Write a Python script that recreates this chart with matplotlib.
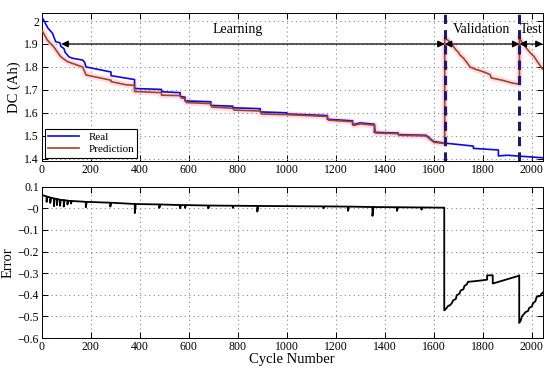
import numpy as np
import matplotlib
matplotlib.use("Agg")
import matplotlib.pyplot as plt
from matplotlib.ticker import FuncFormatter

plt.rcParams['font.family'] = ['Liberation Serif', 'DejaVu Serif']
plt.rcParams['axes.unicode_minus'] = True

# ---- data ----
real_x = [0, 10, 25, 44, 50, 57, 75, 78, 91, 95, 105, 110, 125, 167, 175, 181,
          283, 283, 379, 379, 489, 489, 565, 565, 585, 585, 690, 690, 780, 780,
          892, 892, 1000, 1000, 1166, 1166, 1269, 1269, 1300, 1358, 1358,
          1455, 1455, 1569, 1600, 1645, 1762, 1762, 1864, 1864, 1900, 2045]
real_y = [2.02, 2.0, 1.97, 1.947, 1.93, 1.91, 1.905, 1.89, 1.88, 1.865, 1.852,
          1.845, 1.838, 1.83, 1.82, 1.80, 1.778, 1.762, 1.745, 1.706, 1.702,
          1.692, 1.688, 1.672, 1.668, 1.652, 1.648, 1.632, 1.629, 1.622,
          1.618, 1.604, 1.600, 1.595, 1.588, 1.572, 1.565, 1.548, 1.556, 1.55,
          1.515, 1.512, 1.505, 1.502, 1.475, 1.468, 1.455, 1.445, 1.438,
          1.412, 1.415, 1.404]

pred_x = [0, 23, 49, 77, 105, 167, 181, 283, 283, 345, 379, 379, 489, 489,
          565, 570, 585, 590, 690, 695, 780, 785, 892, 897, 1000, 1166, 1171,
          1269, 1274, 1300, 1358, 1363, 1455, 1460, 1569, 1600, 1645,
          1645, 1660, 1680, 1690, 1700, 1707, 1720, 1735, 1748, 1770, 1800,
          1830, 1835, 1880, 1920, 1950,
          1950, 1965, 1980, 1995, 2010, 2025, 2045]
pred_y = [1.962, 1.917, 1.888, 1.845, 1.823, 1.80, 1.765, 1.742, 1.736, 1.722,
          1.72, 1.693, 1.688, 1.677, 1.675, 1.665, 1.662, 1.645, 1.640, 1.625,
          1.620, 1.612, 1.608, 1.595, 1.592, 1.584, 1.568, 1.561, 1.545, 1.552,
          1.546, 1.512, 1.509, 1.502, 1.499, 1.472, 1.466,
          1.925, 1.915, 1.89, 1.875, 1.865, 1.852, 1.84, 1.82, 1.80, 1.79,
          1.78, 1.767, 1.752, 1.742, 1.73, 1.725,
          1.925, 1.90, 1.88, 1.86, 1.845, 1.82, 1.79]

err_x = [0, 20, 20, 23, 35, 35, 38, 50, 50, 53, 62, 62, 65, 75, 75, 78, 90,
         90, 93, 105, 105, 108, 120, 120, 123, 180, 180, 184, 280, 280, 284,
         380, 380, 384, 480, 480, 484, 565, 565, 569, 585, 585, 589, 680, 680,
         684, 780, 780, 784, 880, 880, 884, 1150, 1150, 1154, 1250, 1250, 1254,
         1350, 1350, 1354, 1450, 1450, 1454, 1550, 1550, 1554, 1643,
         1643, 1650, 1660, 1665, 1673, 1680, 1690, 1694, 1705, 1710, 1721,
         1725, 1735, 1740, 1760, 1800, 1818, 1818, 1841, 1841, 1945, 1949,
         1949, 1955, 1960, 1975, 1985, 1990, 2000, 2005, 2015, 2020, 2035,
         2040, 2045]
err_y = [0.062, 0.055, 0.03, 0.054, 0.05, 0.025, 0.049, 0.046, 0.01, 0.045,
         0.043, 0.015, 0.042, 0.040, 0.012, 0.039, 0.038, 0.008, 0.037, 0.036,
         0.018, 0.035, 0.034, 0.022, 0.034, 0.030, 0.005, 0.030, 0.026, 0.008,
         0.026, 0.020, -0.022, 0.020, 0.018, 0.002, 0.018, 0.015, 0.0, 0.015,
         0.015, 0.002, 0.015, 0.013, 0.0, 0.013, 0.012, 0.002, 0.012, 0.011,
         -0.015, 0.011, 0.009, 0.0, 0.009, 0.008, -0.012, 0.008, 0.006, -0.035,
         0.006, 0.005, -0.012, 0.005, 0.004, -0.006, 0.004, 0.003,
         -0.472, -0.465, -0.45, -0.45, -0.44, -0.425, -0.42, -0.402, -0.395,
         -0.38, -0.375, -0.36, -0.352, -0.34, -0.338, -0.333, -0.33, -0.31,
         -0.31, -0.348, -0.313, -0.31,
         -0.53, -0.52, -0.50, -0.48, -0.475, -0.46, -0.455, -0.44, -0.43,
         -0.41, -0.405, -0.395, -0.39]

phase_bounds = [80, 1645, 1950, 2045]
phase_names = ['Learning', 'Validation', 'Test']
phase_text_x = [800, 1797, 1998]

x_max = 2045

fig = plt.figure(figsize=(5.5, 3.69), dpi=100)
ax1 = fig.add_axes([0.0758, 0.5637, 0.911, 0.401])
ax2 = fig.add_axes([0.0758, 0.084, 0.911, 0.410])

# top: capacity
ax1.plot(pred_x, pred_y, color='#ffdcec', lw=4.5, solid_capstyle='butt', zorder=1)
l_real, = ax1.plot(real_x, real_y, color='#0a0ae6', lw=1.2, zorder=3)
l_pred, = ax1.plot(pred_x, pred_y, color='#a3461c', lw=1.2, zorder=4)
for xb in phase_bounds[1:3]:
    ax1.axvline(xb, color='#1c1c66', lw=2.2, ls=(0, (3, 2)), zorder=5)

for i, name in enumerate(phase_names):
    ax1.annotate('', xy=(phase_bounds[i], 1.9), xytext=(phase_bounds[i + 1], 1.9),
                 arrowprops=dict(arrowstyle='<|-|>', color='black', lw=0.9,
                                 mutation_scale=10, shrinkA=0, shrinkB=0),
                 zorder=6)
    ax1.text(phase_text_x[i], 1.962, name, ha='center', va='center', fontsize=10)

ax1.set_xlim(0, x_max)
ax1.set_ylim(1.39, 2.035)
ax1.set_yticks(np.arange(1.4, 2.01, 0.1))
ax1.set_ylabel('DC (Ah)', fontsize=10.5, labelpad=2)
leg = ax1.legend([l_real, l_pred], ['Real', 'Prediction'], loc='lower left',
                 fontsize=8, fancybox=False, edgecolor='black', framealpha=1,
                 handlelength=2.8, borderpad=0.3, labelspacing=0.2,
                 borderaxespad=0.3)
leg.get_frame().set_linewidth(0.8)

# bottom: error
ax2.plot(err_x, err_y, color='black', lw=1.3)
ax2.set_xlim(0, x_max)
ax2.set_ylim(-0.6, 0.1)
ax2.set_yticks(np.arange(-0.6, 0.11, 0.1))
ax2.set_ylabel('Error', fontsize=10.5, labelpad=2)
ax2.set_xlabel('Cycle Number', fontsize=10.5, labelpad=0)

fmt = FuncFormatter(lambda v, p: ('%g' % round(v, 2)).replace('-', '\u2212'))
for ax in (ax1, ax2):
    ax.set_xticks(np.arange(0, 2001, 200))
    ax.yaxis.set_major_formatter(fmt)
    ax.grid(True, ls=(0, (1, 3)), color='#888888', lw=0.8)
    ax.tick_params(direction='in', top=True, right=True, labelsize=8.5,
                   length=4, width=0.7, pad=2)
    for s in ax.spines.values():
        s.set_linewidth(0.7)

fig.savefig('out.png', dpi=100)
